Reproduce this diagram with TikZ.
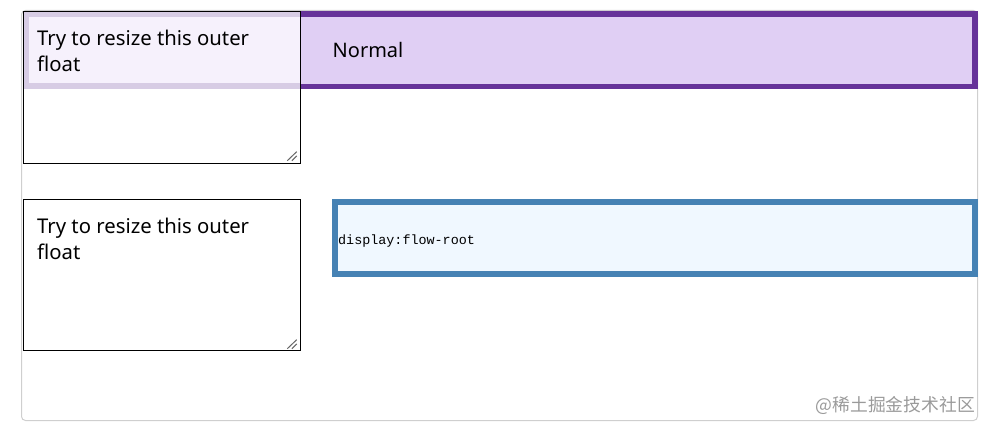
\documentclass[tikz,border=0pt]{standalone}
\usepackage{fontspec}
\setmainfont{Noto Sans}
\newfontfamily\monofnt{Liberation Mono}
\newfontfamily\cjkfnt{Noto Sans CJK SC}
\definecolor{rpurple}{HTML}{663399}
\definecolor{lavfill}{HTML}{E0CFF4}
\definecolor{bandcol}{HTML}{D7CCE4}
\definecolor{innercol}{HTML}{F6F1FC}
\definecolor{steel}{HTML}{4682B4}
\definecolor{alice}{HTML}{F0F8FF}
\definecolor{framecol}{HTML}{CFCFCF}
\definecolor{gripcol}{HTML}{666666}
\definecolor{wmcol}{HTML}{9A9A9A}
\tikzset{
  areatext/.style={anchor=base west, inner sep=0pt, align=left,
    font=\fontsize{20.3}{26}\selectfont},
  grip/.style={draw=gripcol, line width=1pt},
  tabox/.style={draw=black, line width=1pt}
}
\begin{document}
\begin{tikzpicture}[x=1pt,y=-1pt]
\useasboundingbox (0,0) rectangle (991,430);
% outer frame
\draw[framecol, line width=1pt, rounded corners=4pt] (21.5,10.5) rectangle (977.5,420.5);
% purple "Normal" box
\fill[lavfill] (23,11) rectangle (978,89.5);
\draw[rpurple, line width=5.6pt] (25.8,13.8) rectangle (975,86.7);
\node[anchor=base west, inner sep=0pt, font=\fontsize{20}{26}\selectfont] (normal) at (332.5,58) {Normal};
% textarea 1 (overlapping)
\fill[bandcol] (23,11) rectangle (300.5,89.5);
\fill[innercol] (29,16.8) rectangle (300.5,83.5);
\fill[white] (23,89.5) rectangle (300.5,163);
\draw[tabox] (23.3,11.3) rectangle (300.7,163.3);
\node[areatext] (ta1) at (37,71.7) {Try to resize this outer\\float};
\coordinate (g1a) at (296.7,151.7);
\coordinate (g1b) at (287.3,160.7);
\coordinate (g1c) at (296.7,155.9);
\coordinate (g1d) at (291.9,160.7);
\draw[grip] (g1a) -- (g1b);
\draw[grip] (g1c) -- (g1d);
% textarea 2
\draw[tabox] (23.3,199.3) rectangle (300.7,350.3);
\node[areatext] (ta2) at (37,259.5) {Try to resize this outer\\float};
\coordinate (g2a) at (296.7,339.7);
\coordinate (g2b) at (287.3,348.7);
\coordinate (g2c) at (296.7,343.9);
\coordinate (g2d) at (291.9,348.7);
\draw[grip] (g2a) -- (g2b);
\draw[grip] (g2c) -- (g2d);
% flow-root box
\fill[alice] (332,199.3) rectangle (978,276.7);
\draw[steel, line width=5.7pt] (334.85,202.15) rectangle (975.15,273.85);
\node[anchor=base west, inner sep=0pt, font=\monofnt\fontsize{13.4}{15}\selectfont] (fr) at (338,245) {display:flow-root};
% watermark
\node[anchor=base east, inner sep=0pt, text=wmcol, font=\cjkfnt\fontsize{17.8}{20}\selectfont] (wm) at (975,411.5) {@稀土掘金技术社区};
\end{tikzpicture}
\end{document}
